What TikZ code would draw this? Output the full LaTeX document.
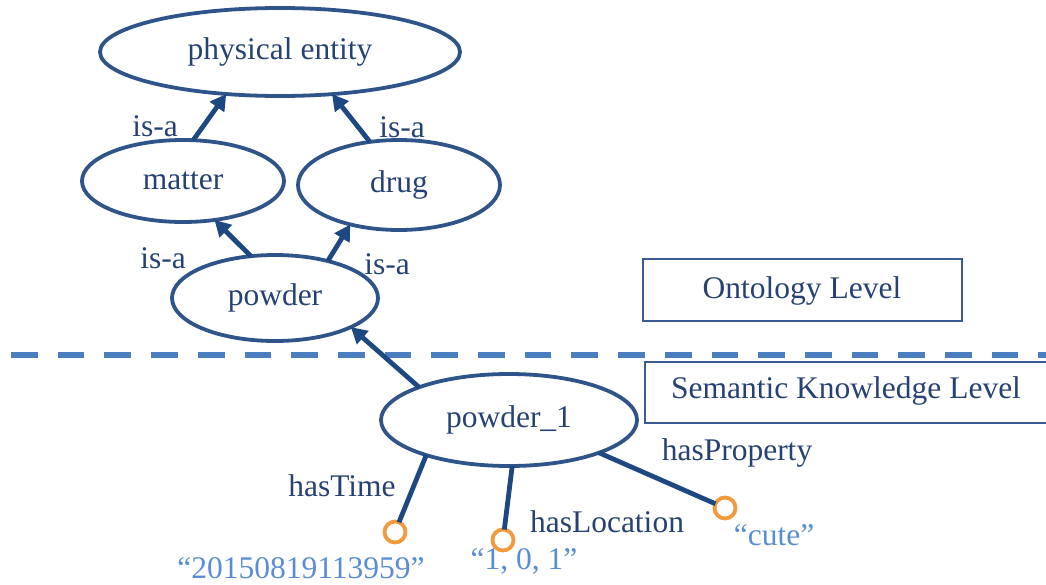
\documentclass[tikz,border=0pt]{standalone}
\usepackage{fontspec}
\setmainfont{Liberation Serif}
\usetikzlibrary{shapes.geometric,arrows.meta}

\definecolor{navytext}{RGB}{38,66,116}
\definecolor{ringblue}{RGB}{46,84,138}
\definecolor{arrowblue}{RGB}{30,72,130}
\definecolor{dashblue}{RGB}{74,126,190}
\definecolor{valorange}{RGB}{242,154,60}
\definecolor{valblue}{RGB}{90,142,212}
\definecolor{boxblue}{RGB}{58,92,148}

\tikzset{
  base/.style={font=\fontsize{31.5}{36}\selectfont},
  concept/.style={base, ellipse, draw=ringblue, line width=3.8pt, text=navytext,
    inner sep=0pt, outer sep=0pt},
  lbl/.style={base, text=navytext, inner sep=0pt},
  vallbl/.style={base, text=valblue, inner sep=0pt},
  isa/.style={draw=arrowblue, line width=4.8pt,
    -{Triangle[length=16pt,width=17pt]}},
  prop/.style={draw=arrowblue, line width=4.8pt},
  literal/.style={circle, draw=valorange, line width=3.8pt, minimum size=21pt,
    inner sep=0pt, outer sep=0pt, fill=white},
  levelbox/.style={draw=boxblue, line width=1.8pt}
}

\begin{document}
\begin{tikzpicture}[x=1pt,y=-1pt]
\useasboundingbox (0,0) rectangle (1046,584);
\clip (0,0) rectangle (1046,584);

% ontology concepts
\node[concept, minimum width=360pt, minimum height=88pt] (phys) at (280,52) {physical entity};
\node[concept, minimum width=202pt, minimum height=82pt] (matter) at (183,181) {matter};
\node[concept, minimum width=202pt, minimum height=90pt] (drug) at (399,185) {drug};
\node[concept, minimum width=206pt, minimum height=86pt] (powder) at (275,298) {powder};

% instance
\node[concept, minimum width=256pt, minimum height=92pt] (inst) at (509,420) {powder\_1};

% literal values
\node[literal] (tval) at (395,532) {};
\node[literal] (lval) at (503,540) {};
\node[literal] (pval) at (725,508) {};

% level separator
\draw[dashblue, line width=6pt, dash pattern=on 26.7pt off 20pt] (11,355) -- (1046,355);

% level labels
\draw[levelbox] (643,259) rectangle (962,321);
\node[lbl] (ontlbl) at (802,291) {Ontology Level};
\draw[levelbox] (645,362) rectangle (1060,423);
\node[lbl] (semlbl) at (846,391) {Semantic Knowledge Level};

% is-a links
\draw[isa] (matter.76) -- (phys.218);
\draw[isa] (drug.124) -- (phys.321);
\draw[isa] (powder.120) -- (matter.309);
\draw[isa] (powder.35) -- (drug.219);
\draw[isa] (inst.160) -- (powder.339);

\node[lbl] (isa1) at (155,126) {is-a};
\node[lbl] (isa2) at (402,127) {is-a};
\node[lbl] (isa3) at (163,258) {is-a};
\node[lbl] (isa4) at (387,264) {is-a};

% properties
\draw[prop] (inst.203) -- (tval);
\draw[prop] (inst.274) -- (lval);
\draw[prop] (inst.340) -- (pval);

\node[lbl] (ptime) at (342,486) {hasTime};
\node[lbl] (ploc) at (607,522) {hasLocation};
\node[lbl] (pprop) at (737,453) {hasProperty};

\node[vallbl] (ttext) at (301,568) {“20150819113959”};
\node[vallbl] (ltext) at (524,561) {“1, 0, 1”};
\node[vallbl] (ptext) at (774,535) {“cute”};
\end{tikzpicture}
\end{document}
